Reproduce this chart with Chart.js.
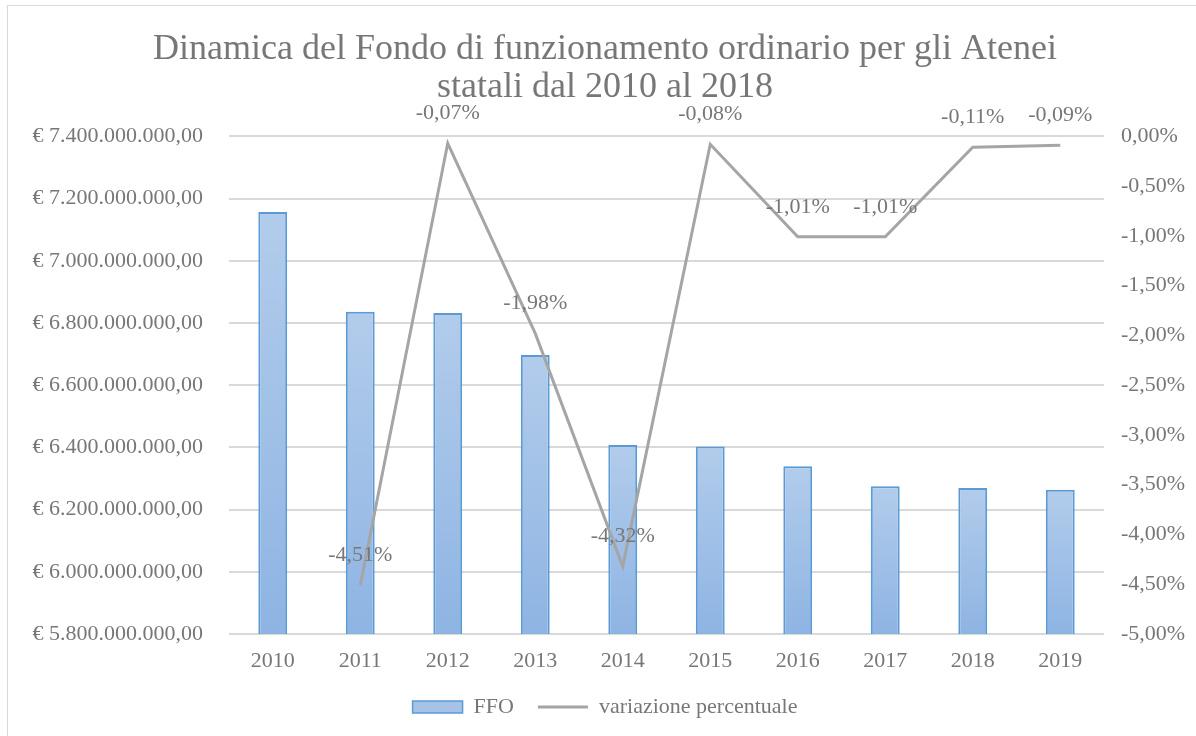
<!DOCTYPE html>
<html>
<head>
<meta charset="utf-8">
<script src="https://cdn.jsdelivr.net/npm/chart.js@4"></script>
<style>
  html, body { margin: 0; padding: 0; background: #fff; overflow: hidden; }
  #wrap { position: relative; width: 1196px; height: 736px; }
  #frame { position: absolute; left: 7px; top: 5px; width: 1200px; height: 740px; border: 1px solid #d9d9d9; }
  canvas { position: absolute; left: 0; top: 0; }
</style>
</head>
<body>
<div id="wrap">
  <div id="frame"></div>
  <canvas id="chart" width="1196" height="736"></canvas>
</div>
<script>
// dati
const anni = ['2010', '2011', '2012', '2013', '2014', '2015', '2016', '2017', '2018', '2019'];
const ffo = [7157000000, 6836000000, 6832000000, 6697000000, 6408000000, 6403000000, 6339000000, 6275000000, 6269000000, 6264000000];
const variazione = [null, -4.51, -0.07, -1.98, -4.32, -0.08, -1.01, -1.01, -0.11, -0.09];
const titolo = ['Dinamica del Fondo di funzionamento ordinario per gli Atenei', 'statali dal 2010 al 2018'];

const FONT = '"Liberation Serif", "Times New Roman", serif';
const GREY = '#777777';

function euro(v) {
    const parts = Math.round(v).toString().replace(/\B(?=(\d{3})+(?!\d))/g, '.');
    return '€ ' + parts + ',00';
}
function perc(v) {
    return v.toFixed(2).replace('.', ',') + '%';
}

const etichette = {
    id: 'etichette',
    afterDatasetsDraw(chart) {
        const meta = chart.getDatasetMeta(1);
        const ctx = chart.ctx;
        ctx.save();
        ctx.font = '22px ' + FONT;
        ctx.fillStyle = GREY;
        ctx.textAlign = 'center';
        ctx.textBaseline = 'middle';
        meta.data.forEach((pt, i) => {
            const v = variazione[i];
            if (v === null) return;
            ctx.fillText(perc(v), pt.x, pt.y - 30);
        });
        ctx.restore();
    }
};

const ctx = document.getElementById('chart').getContext('2d');
new Chart(ctx, {
    data: {
        labels: anni,
        datasets: [
            {
                type: 'bar',
                label: 'FFO',
                data: ffo,
                yAxisID: 'y',
                order: 2,
                borderColor: '#5b9bd5',
                borderWidth: 2,
                barPercentage: 0.33,
                categoryPercentage: 1,
                backgroundColor: (c) => {
                    const ch = c.chart;
                    const area = ch.chartArea;
                    if (!area || c.raw == null) return '#a6c3e7';
                    const top = ch.scales.y.getPixelForValue(c.raw);
                    const g = ch.ctx.createLinearGradient(0, top, 0, area.bottom);
                    g.addColorStop(0, '#b2cceb');
                    g.addColorStop(1, '#8eb4e3');
                    return g;
                }
            },
            {
                type: 'line',
                label: 'variazione percentuale',
                data: variazione,
                yAxisID: 'y1',
                order: 1,
                borderColor: '#a5a5a5',
                borderWidth: 3,
                pointRadius: 0,
                tension: 0
            }
        ]
    },
    options: {
        responsive: false,
        animation: false,
        layout: { padding: { top: 0, bottom: 8, left: 14, right: 0 } },
        plugins: {
            title: {
                display: true,
                text: titolo,
                color: GREY,
                font: { family: FONT, size: 36, weight: 'normal', lineHeight: 1.06 },
                padding: { top: 30, bottom: 30 }
            },
            legend: {
                position: 'bottom',
                labels: {
                    color: GREY,
                    font: { family: FONT, size: 22 },
                    usePointStyle: true,
                    pointStyleWidth: 50,
                    boxHeight: 12,
                    padding: 24,
                    sort: (a, b) => a.datasetIndex - b.datasetIndex,
                    generateLabels(chart) {
                        const items = Chart.defaults.plugins.legend.labels.generateLabels(chart);
                        items.forEach((it) => {
                            if (it.datasetIndex === 0) {
                                it.fillStyle = '#a6c3e7';
                                it.strokeStyle = '#5b9bd5';
                                it.lineWidth = 1.5;
                                it.pointStyle = 'rect';
                            } else {
                                it.pointStyle = 'line';
                                it.strokeStyle = '#a5a5a5';
                                it.lineWidth = 3;
                            }
                        });
                        return items;
                    }
                }
            },
            tooltip: { enabled: false }
        },
        scales: {
            x: {
                grid: { display: false, drawTicks: false },
                border: { display: false },
                ticks: { color: GREY, font: { family: FONT, size: 22, lineHeight: 1 }, padding: 16 },
                afterFit: (s) => { s.height = 38; }
            },
            y: {
                position: 'left',
                min: 5800000000,
                max: 7400000000,
                grid: { color: '#d9d9d9', lineWidth: 2, drawTicks: false },
                border: { display: false },
                ticks: {
                    stepSize: 200000000,
                    color: GREY,
                    font: { family: FONT, size: 22 },
                    padding: 26,
                    callback: (v) => euro(v)
                },
                afterFit: (s) => { s.width = 215; }
            },
            y1: {
                position: 'right',
                min: -5,
                max: 0,
                grid: { display: false, drawTicks: false },
                border: { display: false },
                ticks: {
                    stepSize: 0.5,
                    color: GREY,
                    font: { family: FONT, size: 22 },
                    padding: 17,
                    callback: (v) => perc(v)
                },
                afterFit: (s) => { s.width = 92; }
            }
        }
    },
    plugins: [etichette]
});
</script>
</body>
</html>
